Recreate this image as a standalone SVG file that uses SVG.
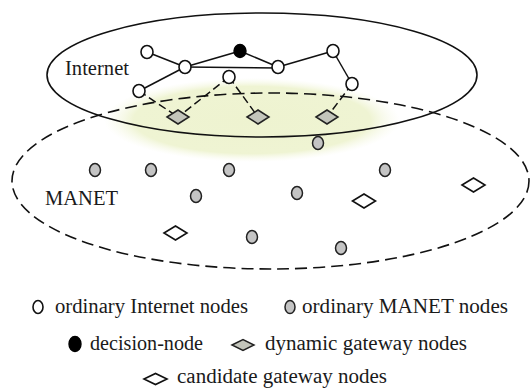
<svg xmlns="http://www.w3.org/2000/svg" width="531" height="388" viewBox="0 0 531 388">
<defs>
<radialGradient id="glow" cx="0.5" cy="0.5" r="0.5">
<stop offset="0" stop-color="#eef3d0"/>
<stop offset="0.8" stop-color="#eff4d3"/>
<stop offset="1" stop-color="#f7f9e8" stop-opacity="0"/>
</radialGradient>
<style>
text{font-family:"Liberation Serif","DejaVu Serif","Noto Serif",Tinos,"Times New Roman",Times,serif;font-size:20.5px;fill:#1a1a1a}
.inet{fill:#fff;stroke:#111;stroke-width:1.6}
.dec{fill:#000;stroke:#000;stroke-width:1.4}
.man{fill:#c4c4c4;stroke:#222;stroke-width:1.5}
.dgw{fill:#c3c5bb;stroke:#222;stroke-width:1.5}
.cgw{fill:#fff;stroke:#111;stroke-width:1.6}
.edge{stroke:#111;stroke-width:1.5;fill:none}
.gw{stroke:#111;stroke-width:1.5;fill:none;stroke-dasharray:8 4}
</style>
</defs>
<rect width="531" height="388" fill="#fff"/>
<g id="regions">
<ellipse id="gateway-zone" cx="252" cy="120" rx="148" ry="42" fill="url(#glow)"/>
<ellipse id="internet-region" cx="262" cy="75" rx="215" ry="62" fill="none" stroke="#111" stroke-width="1.6"/>
<ellipse id="manet-region" cx="270.5" cy="181" rx="258.5" ry="88" fill="none" stroke="#111" stroke-width="1.6" stroke-dasharray="12 6"/>
</g>
<g id="connectors">
<line class="edge" x1="147" y1="52" x2="185" y2="67"/>
<line class="edge" x1="185" y1="67" x2="240" y2="51"/>
<line class="edge" x1="240" y1="51" x2="278" y2="67"/>
<line class="edge" x1="278" y1="67" x2="333" y2="51"/>
<line class="edge" x1="333" y1="51" x2="352" y2="84"/>
<line class="edge" x1="185" y1="67" x2="139" y2="91"/>
<line class="edge" x1="185" y1="67" x2="278" y2="68"/>
<line class="gw" x1="139" y1="91" x2="178" y2="117"/>
<line class="gw" x1="229" y1="77" x2="178" y2="117"/>
<line class="gw" x1="229" y1="77" x2="258" y2="117"/>
<line class="gw" x1="352" y1="84" x2="327" y2="117"/>
</g>
<g id="internet-nodes">
<g id="in1"><ellipse class="inet" cx="147" cy="52" rx="6" ry="6.5"/></g>
<g id="in2"><ellipse class="inet" cx="185" cy="67" rx="6" ry="6.5"/></g>
<g id="decision"><ellipse class="dec" cx="240" cy="51" rx="6" ry="6.5"/></g>
<g id="in3"><ellipse class="inet" cx="229" cy="77" rx="6" ry="6.5"/></g>
<g id="in4"><ellipse class="inet" cx="139" cy="91" rx="6" ry="6.5"/></g>
<g id="in5"><ellipse class="inet" cx="278" cy="67" rx="6" ry="6.5"/></g>
<g id="in6"><ellipse class="inet" cx="333" cy="51" rx="6" ry="6.5"/></g>
<g id="in7"><ellipse class="inet" cx="352" cy="84" rx="6" ry="6.5"/></g>
</g>
<g id="gateways">
<g id="dg1"><polygon class="dgw" points="167,117 178,110 189,117 178,124"/></g>
<g id="dg2"><polygon class="dgw" points="247,117 258,110 269,117 258,124"/></g>
<g id="dg3"><polygon class="dgw" points="316,117 327,110 338,117 327,124"/></g>
<g id="cg1"><polygon class="cgw" points="164,233 175.5,226 187,233 175.5,240"/></g>
<g id="cg2"><polygon class="cgw" points="352.5,201 364,194 375.5,201 364,208"/></g>
<g id="cg3"><polygon class="cgw" points="462,185 473.5,178 485,185 473.5,192"/></g>
</g>
<g id="manet-nodes">
<g id="m1"><ellipse class="man" cx="318" cy="143" rx="5.5" ry="6.5"/></g>
<g id="m2"><ellipse class="man" cx="95" cy="170" rx="5.5" ry="6.5"/></g>
<g id="m3"><ellipse class="man" cx="151" cy="170" rx="5.5" ry="6.5"/></g>
<g id="m4"><ellipse class="man" cx="229" cy="170" rx="5.5" ry="6.5"/></g>
<g id="m5"><ellipse class="man" cx="196" cy="196" rx="5.5" ry="6.5"/></g>
<g id="m6"><ellipse class="man" cx="297" cy="193" rx="5.5" ry="6.5"/></g>
<g id="m7"><ellipse class="man" cx="385" cy="170" rx="5.5" ry="6.5"/></g>
<g id="m8"><ellipse class="man" cx="252" cy="237" rx="5.5" ry="6.5"/></g>
<g id="m9"><ellipse class="man" cx="341" cy="248" rx="5.5" ry="6.5"/></g>
</g>
<g id="region-labels">
<text x="65" y="75" textLength="64" lengthAdjust="spacingAndGlyphs">Internet</text>
<text x="45" y="205" textLength="73" lengthAdjust="spacingAndGlyphs">MANET</text>
</g>
<g id="legend">
<ellipse class="inet" cx="38" cy="307" rx="5" ry="6.5"/>
<text x="55" y="313" textLength="193" lengthAdjust="spacingAndGlyphs">ordinary Internet nodes</text>
<ellipse class="man" cx="290" cy="307" rx="5" ry="6.5"/>
<text x="302" y="313" textLength="206" lengthAdjust="spacingAndGlyphs">ordinary MANET nodes</text>
<ellipse class="dec" cx="75" cy="344" rx="6" ry="7.5"/>
<text x="90" y="350" textLength="113" lengthAdjust="spacingAndGlyphs">decision-node</text>
<polygon class="dgw" points="232,345 243,339.5 254,345 243,350.5"/>
<text x="265" y="350" textLength="202" lengthAdjust="spacingAndGlyphs">dynamic gateway nodes</text>
<polygon class="cgw" points="144,379 155.5,373.5 167,379 155.5,384.5"/>
<text x="177" y="383" textLength="210" lengthAdjust="spacingAndGlyphs">candidate gateway nodes</text>
</g>
</svg>
